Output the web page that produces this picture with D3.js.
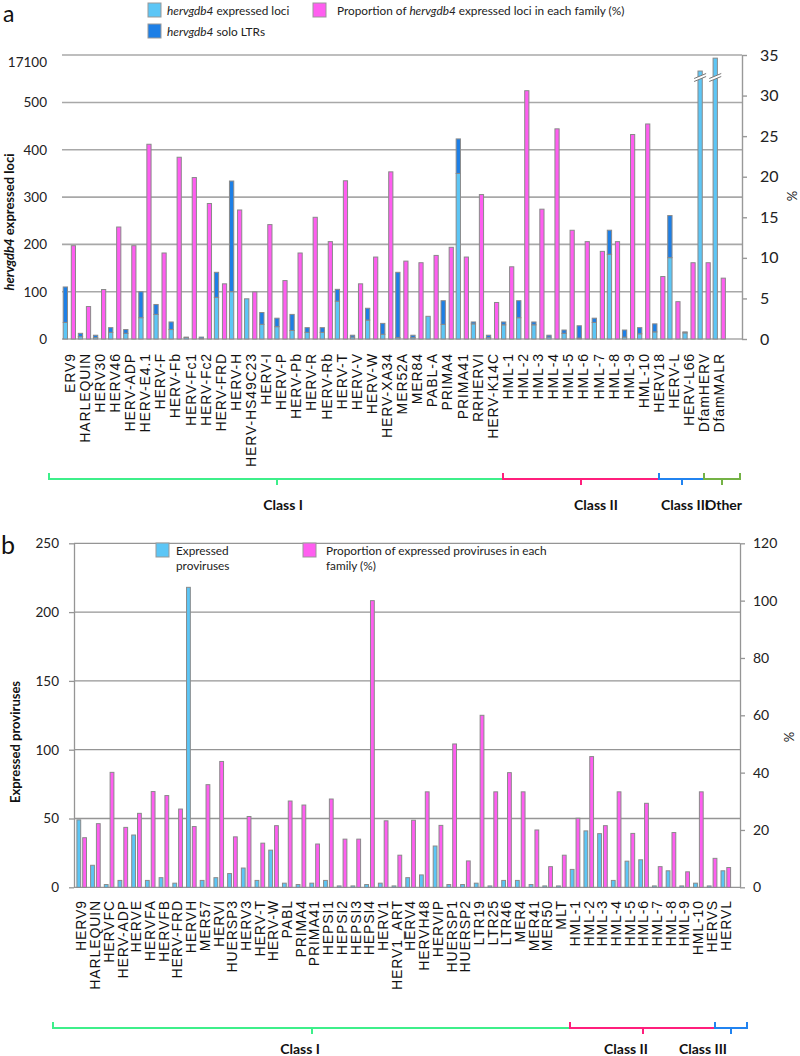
<!DOCTYPE html>
<html><head><meta charset="utf-8">
<script src="https://cdn.jsdelivr.net/npm/d3@7"></script>
<style>body{margin:0;background:#fff} svg{display:block}</style>
</head><body><svg id="c" width="800" height="1056"></svg>
<script>
// ---------- Panel a data ----------
const catsA = ["ERV9","HARLEQUIN","HERV30","HERV46","HERV-ADP","HERV-E4.1","HERV-F","HERV-Fb","HERV-Fc1","HERV-Fc2","HERV-FRD","HERV-H","HERV-HS49C23","HERV-I","HERV-P","HERV-Pb","HERV-R","HERV-Rb","HERV-T","HERV-V","HERV-W","HERV-XA34","MER52A","MER84","PABL-A","PRIMA4","PRIMA41","RRHERVI","HERV-K14C","HML-1","HML-2","HML-3","HML-4","HML-5","HML-6","HML-7","HML-8","HML-9","HML-10","HERV18","HERV-L","HERV-L66","DfamHERV","DfamMALR"];
const lociA = [35,5,3,14,12,45,52,20,3,1,88,100,85,31,26,18,14,14,80,4,40,10,3,3,48,31,350,32,3,30,45,30,4,12,2,35,179,4,11,15,172,13,11500,16000];
const soloA = [75,7,5,10,8,55,21,16,1,3,53,234,0,25,18,34,10,10,25,4,25,23,138,5,0,50,73,4,5,6,36,6,4,7,26,9,51,15,13,17,89,2,0,0];
const pctA  = [11.5,4.0,6.1,13.8,11.5,24.0,10.6,22.4,19.9,16.7,6.8,15.9,5.8,14.1,7.2,10.6,15.0,12.0,19.5,6.8,10.1,20.6,9.6,9.4,10.3,11.3,10.1,17.8,4.5,8.9,30.6,16.0,25.9,13.4,12.0,10.8,12.0,25.2,26.5,7.7,4.6,9.4,9.4,7.5];
const leftTicksA = [0,100,200,300,400,500,17100];
const rightTicksA = [0,5,10,15,20,25,30,35];
const classNamesA = ["Class I","Class II","Class III","Other"];

// ---------- Panel b data ----------
const catsB = ["HERV9","HARLEQUIN","HERVFC","HERV-ADP","HERVE","HERVFA","HERVFB","HERV-FRD","HERVH","MER57","HERVI","HUERSP3","HERV3","HERV-T","HERV-W","PABL","PRIMA4","PRIMA41","HEPSI1","HEPSI2","HEPSI3","HEPSI4","HERV1","HERV1_ART","HERV4","HERVH48","HERVIP","HUERSP1","HUERSP2","LTR19","LTR25","LTR46","MER4","MER41","MER50","MLT","HML-1","HML-2","HML-3","HML-4","HML-5","HML-6","HML-7","HML-8","HML-9","HML-10","HERVS","HERVL"];
const exprB = [49,16,2,5,38,5,7,3,218,5,7,10,14,5,27,3,2,3,5,1,1,2,3,1,7,9,30,2,2,3,1,5,5,2,1,1,13,41,39,5,19,20,1,12,1,3,1,12];
const pctB  = [17.3,22.2,40.1,20.9,25.8,33.4,32.0,27.3,21.2,35.8,43.9,17.6,24.7,15.4,21.5,30.1,28.7,15.1,30.8,16.8,16.8,100,23.2,11.2,23.4,33.3,21.6,50,9.2,60,33.3,40,33.3,20,7.2,11.2,24.1,45.6,21.5,33.3,18.8,29.3,7.2,19.1,5.4,33.3,10.1,6.9];
const leftTicksB = [0,50,100,150,200,250];
const rightTicksB = [0,20,40,60,80,100,120];
const classNamesB = ["Class I","Class II","Class III"];

// ---------- styles ----------
const C_LIGHT = "#5cc6f6", C_DARK = "#1d7fe6", C_PINK = "#ff5ef0", C_STROKE = "#8a8a8a";
const FONT = "Lato, 'Open Sans', sans-serif";
const LABFONT = "'Liberation Sans', Arial, sans-serif";

const svg = d3.select("#c");

// =============== PANEL A ===============
const gA = svg.append("g");
const xA = d3.scaleBand().domain(catsA).range([62, 727]);
const yA = d3.scaleLinear().domain([0, 500, 17100]).range([339, 102.5, 55]);
const yA2 = d3.scaleLinear().domain([0, 35]).range([339, 55]);
const bwA = xA.bandwidth();

gA.selectAll("line.grid").data(leftTicksA).join("line")
  .attr("x1", 62).attr("x2", 742)
  .attr("y1", d => yA(d)).attr("y2", d => yA(d))
  .attr("stroke", "#a8a8a8").attr("stroke-width", 1.6);

const axLA = gA.append("g").attr("transform", "translate(62,0)")
  .call(d3.axisLeft(yA).tickValues(leftTicksA).tickSize(0).tickPadding(15).tickFormat(d3.format("d")));
axLA.select(".domain").remove();
axLA.selectAll("text").attr("font-size", 13.5).attr("font-family", FONT).attr("fill", "#222")
  .attr("transform", d => d === 17100 ? "translate(0,7)" : null);

const axRA = gA.append("g").attr("transform", "translate(742,0)")
  .call(d3.axisRight(yA2).tickValues(rightTicksA).tickSize(5).tickSizeOuter(0).tickPadding(13));
axRA.select(".domain").attr("stroke", "#999").attr("stroke-width", 1.4);
axRA.selectAll(".tick line").attr("stroke", "#999").attr("stroke-width", 1.4);
axRA.selectAll("text").attr("font-size", 16).attr("font-family", FONT).attr("fill", "#222");

const dataA = catsA.map((c, i) => ({c, loci: lociA[i], solo: soloA[i], pct: pctA[i]}));
const bA = gA.append("g").attr("stroke", C_STROKE).attr("stroke-width", 1);
bA.selectAll("rect.loci").data(dataA).join("rect")
  .attr("x", d => xA(d.c) + 1.2).attr("width", 4.3)
  .attr("y", d => yA(d.loci)).attr("height", d => yA(0) - yA(d.loci))
  .attr("fill", C_LIGHT);
bA.selectAll("rect.solo").data(dataA.filter(d => d.solo > 0)).join("rect")
  .attr("x", d => xA(d.c) + 1.2).attr("width", 4.3)
  .attr("y", d => yA(d.loci + d.solo)).attr("height", d => yA(d.loci) - yA(d.loci + d.solo))
  .attr("fill", C_DARK);
bA.selectAll("rect.pct").data(dataA).join("rect")
  .attr("x", d => xA(d.c) + 9.3).attr("width", 4.2)
  .attr("y", d => yA2(d.pct)).attr("height", d => yA2(0) - yA2(d.pct))
  .attr("fill", C_PINK);

// axis-break marks on bars above 500
const brk = gA.append("g");
dataA.filter(d => d.loci + d.solo > 500).forEach(d => {
  const cx = xA(d.c) + 3.35, y0 = 78;
  brk.append("path").attr("d", `M${cx-6},${y0+2} L${cx+6},${y0-3}`).attr("stroke", "#fff").attr("stroke-width", 3);
  brk.append("path").attr("d", `M${cx-6},${y0+0.5} L${cx+6},${y0-4.5}`).attr("stroke", "#666").attr("stroke-width", 0.9);
  brk.append("path").attr("d", `M${cx-6},${y0+3.5} L${cx+6},${y0-1.5}`).attr("stroke", "#666").attr("stroke-width", 0.9);
});

// category labels
gA.selectAll("text.cat").data(catsA).join("text")
  .attr("transform", d => `translate(${xA(d) + bwA / 2},353) rotate(-90)`)
  .attr("text-anchor", "end").attr("dy", "0.36em")
  .attr("font-family", LABFONT).attr("font-size", 14).attr("letter-spacing", 0.9).attr("fill", "#111")
  .text(d => d);

// y titles
const tA = gA.append("text").attr("transform", "translate(14,222) rotate(-90)")
  .attr("text-anchor", "middle").attr("font-family", FONT).attr("font-size", 13).attr("font-weight", "bold").attr("fill", "#111");
tA.append("tspan").attr("font-style", "italic").text("hervgdb4");
tA.append("tspan").text(" expressed loci");
gA.append("text").attr("transform", "translate(797,196) rotate(-90)").attr("text-anchor", "middle")
  .attr("font-family", FONT).attr("font-size", 13).attr("fill", "#222").text("%");

// panel letter
svg.append("text").attr("x", 3).attr("y", 22).attr("font-family", FONT).attr("font-size", 23).attr("fill", "#111").text("a");

// legend a
const legA = gA.append("g").attr("font-family", FONT).attr("font-size", 11.8).attr("fill", "#222");
legA.append("rect").attr("x", 148).attr("y", 3).attr("width", 13).attr("height", 14).attr("fill", C_LIGHT).attr("stroke", "#999");
legA.append("rect").attr("x", 148).attr("y", 24).attr("width", 13).attr("height", 14).attr("fill", C_DARK).attr("stroke", "#999");
legA.append("rect").attr("x", 313).attr("y", 3).attr("width", 13).attr("height", 14).attr("fill", C_PINK).attr("stroke", "#999");
const l1 = legA.append("text").attr("x", 167).attr("y", 14).attr("dy", "0.1em");
l1.append("tspan").attr("font-style", "italic").text("hervgdb4"); l1.append("tspan").text(" expressed loci");
const l2 = legA.append("text").attr("x", 167).attr("y", 35).attr("dy", "0.1em");
l2.append("tspan").attr("font-style", "italic").text("hervgdb4"); l2.append("tspan").text(" solo LTRs");
const l3 = legA.append("text").attr("x", 337).attr("y", 14).attr("dy", "0.1em");
l3.append("tspan").text("Proportion of "); l3.append("tspan").attr("font-style", "italic").text("hervgdb4");
l3.append("tspan").text(" expressed loci in each family (%)");

// class brackets a
const brA = [
  {x0: 49, x1: 503, mid: 277, color: "#3def8a", label: classNamesA[0], lx: 283, anchor: "middle"},
  {x0: 503, x1: 659, mid: 581, color: "#ff1f7c", label: classNamesA[1], lx: 596, anchor: "middle"},
  {x0: 659, x1: 704, mid: 682, color: "#2183f0", label: classNamesA[2], lx: 661, anchor: "start"},
  {x0: 704, x1: 740, mid: 722, color: "#74b245", label: classNamesA[3], lx: 742, anchor: "end"}
];
function drawBrackets(g, arr, y, ly) {
  arr.forEach(b => {
    g.append("path").attr("d", `M${b.x0},${y-6} L${b.x0},${y} L${b.x1},${y} L${b.x1},${y-6} M${b.mid},${y} L${b.mid},${y+6}`)
      .attr("fill", "none").attr("stroke", b.color).attr("stroke-width", 2);
  });
  arr.forEach(b => {
    g.append("text").attr("x", b.lx).attr("y", ly).attr("dy", "0.35em").attr("text-anchor", b.anchor)
      .attr("font-family", FONT).attr("font-weight", "bold").attr("font-size", 14).attr("fill", "#111").text(b.label);
  });
}
drawBrackets(gA, brA, 479, 505);

// =============== PANEL B ===============
const gB = svg.append("g");
const xB = d3.scaleBand().domain(catsB).range([74.6, 732.4]);
const yB = d3.scaleLinear().domain([0, 250]).range([887.3, 543.3]);
const yB2 = d3.scaleLinear().domain([0, 120]).range([887.3, 543.3]);
const bwB = xB.bandwidth();

gB.selectAll("line.grid").data(leftTicksB).join("line")
  .attr("x1", 74).attr("x2", 740)
  .attr("y1", d => yB(d)).attr("y2", d => yB(d))
  .attr("stroke", "#959595").attr("stroke-width", 1.3);

const axLB = gB.append("g").attr("transform", "translate(74,0)")
  .call(d3.axisLeft(yB).tickValues(leftTicksB).tickSize(5).tickSizeOuter(0).tickPadding(10));
axLB.select(".domain").attr("stroke", "#959595").attr("stroke-width", 1.3);
axLB.selectAll(".tick line").attr("stroke", "#959595").attr("stroke-width", 1.3);
axLB.selectAll("text").attr("font-size", 13.5).attr("font-family", FONT).attr("fill", "#222");

const axRB = gB.append("g").attr("transform", "translate(740,0)")
  .call(d3.axisRight(yB2).tickValues(rightTicksB).tickSize(5).tickSizeOuter(0).tickPadding(8));
axRB.select(".domain").attr("stroke", "#959595").attr("stroke-width", 1.3);
axRB.selectAll(".tick line").attr("stroke", "#959595").attr("stroke-width", 1.3);
axRB.selectAll("text").attr("font-size", 14).attr("font-family", FONT).attr("fill", "#222");

const dataB = catsB.map((c, i) => ({c, e: exprB[i], p: pctB[i]}));
const bB = gB.append("g").attr("stroke", C_STROKE).attr("stroke-width", 1);
bB.selectAll("rect.e").data(dataB).join("rect")
  .attr("x", d => xB(d.c) + 2.3).attr("width", 3.8)
  .attr("y", d => yB(d.e)).attr("height", d => yB(0) - yB(d.e))
  .attr("fill", C_LIGHT);
bB.selectAll("rect.p").data(dataB).join("rect")
  .attr("x", d => xB(d.c) + 8.1).attr("width", 3.8)
  .attr("y", d => yB2(d.p)).attr("height", d => yB2(0) - yB2(d.p))
  .attr("fill", C_PINK);

gB.selectAll("text.cat").data(catsB).join("text")
  .attr("transform", d => `translate(${xB(d) + bwB / 2},900) rotate(-90)`)
  .attr("text-anchor", "end").attr("dy", "0.36em")
  .attr("font-family", LABFONT).attr("font-size", 14).attr("letter-spacing", 0.9).attr("fill", "#111")
  .text(d => d);

gB.append("text").attr("transform", "translate(20,742) rotate(-90)").attr("text-anchor", "middle")
  .attr("font-family", FONT).attr("font-size", 13).attr("font-weight", "bold").attr("fill", "#111").text("Expressed proviruses");
gB.append("text").attr("transform", "translate(794,737) rotate(-90)").attr("text-anchor", "middle")
  .attr("font-family", FONT).attr("font-size", 13).attr("fill", "#222").text("%");

svg.append("text").attr("x", 1).attr("y", 554).attr("font-family", FONT).attr("font-size", 25).attr("fill", "#111").text("b");

const legB = gB.append("g").attr("font-family", FONT).attr("font-size", 11.8).attr("fill", "#222");
legB.append("rect").attr("x", 156).attr("y", 543).attr("width", 13).attr("height", 14).attr("fill", C_LIGHT).attr("stroke", "#999");
legB.append("rect").attr("x", 303).attr("y", 543).attr("width", 13).attr("height", 14).attr("fill", C_PINK).attr("stroke", "#999");
legB.append("text").attr("x", 176).attr("y", 554).attr("dy", "0.1em").text("Expressed");
legB.append("text").attr("x", 176).attr("y", 569).attr("dy", "0.1em").text("proviruses");
legB.append("text").attr("x", 326).attr("y", 554).attr("dy", "0.1em").text("Proportion of expressed proviruses in each");
legB.append("text").attr("x", 326).attr("y", 569).attr("dy", "0.1em").text("family (%)");

const brB = [
  {x0: 53, x1: 570, mid: 312, color: "#3def8a", label: classNamesB[0], lx: 300, anchor: "middle"},
  {x0: 570, x1: 715, mid: 643, color: "#ff1f7c", label: classNamesB[1], lx: 626, anchor: "middle"},
  {x0: 715, x1: 747, mid: 731, color: "#2183f0", label: classNamesB[2], lx: 703, anchor: "middle"}
];
drawBrackets(gB, brB, 1028, 1049);
</script></body></html>
